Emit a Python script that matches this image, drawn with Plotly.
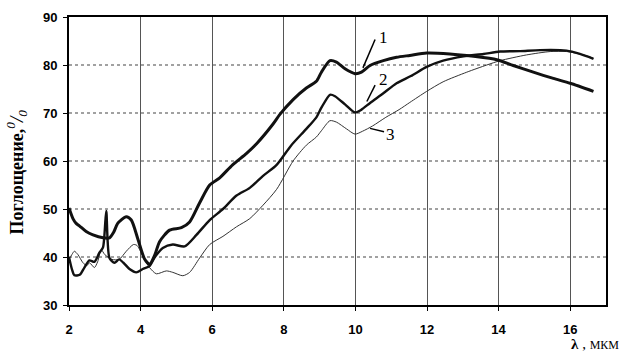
import plotly.graph_objects as go

# Curve 1 (thick)
x1 = [2.0, 2.11, 2.2, 2.29, 2.48, 2.67, 2.95, 3.13, 3.25, 3.36, 3.6, 3.74, 3.93, 4.11, 4.25,
      4.4, 4.53, 4.81, 5.14, 5.37, 5.65, 5.93, 6.21, 6.57, 6.96, 7.24, 7.7, 7.89, 8.26, 8.63,
      8.91, 9.05, 9.29, 9.47, 9.71, 9.99, 10.17, 10.41, 10.78, 11.15, 11.52, 11.99, 12.64,
      13.3, 13.95, 14.41, 14.97, 15.53, 16.0, 16.65]
y1 = [50.2, 48.0, 47.0, 46.5, 45.3, 44.6, 44.0, 44.0, 45.2, 47.0, 48.4, 47.7, 43.6, 39.6, 38.5,
      40.5, 43.2, 45.6, 46.1, 47.3, 51.3, 55.0, 56.5, 59.2, 61.6, 63.6, 67.7, 69.7, 72.8, 75.2,
      76.6, 78.5, 80.9, 80.6, 79.2, 78.2, 78.5, 79.9, 80.9, 81.6, 82.0, 82.5, 82.3,
      81.8, 81.1, 79.9, 78.5, 77.2, 76.2, 74.5]

# Curve 2 (medium)
x2 = [2.0, 2.08, 2.15, 2.3, 2.43, 2.57, 2.71, 2.85, 2.95, 3.04, 3.13, 3.27, 3.4, 3.52, 3.69,
      3.88, 4.06, 4.25, 4.4, 4.62, 4.9, 5.23, 5.56, 5.93, 6.3, 6.68, 7.05, 7.42, 7.8, 8.2,
      8.63, 8.91, 9.05, 9.29, 9.43, 9.71, 9.99, 10.17, 10.41, 10.78, 11.15, 11.55, 11.99,
      12.45, 13.02, 13.58, 14.04, 14.6, 15.16, 15.9, 16.27, 16.65]
y2 = [40.0, 37.5, 36.2, 36.3, 37.8, 39.3, 39.0, 40.9, 42.0, 49.6, 39.8, 38.8, 39.5, 38.8, 37.5,
      36.8, 37.5, 38.1, 40.0, 41.9, 42.6, 42.2, 44.6, 47.7, 50.0, 52.8, 54.4, 56.9, 59.2, 63.2,
      66.7, 69.1, 71.1, 73.8, 73.5, 71.8, 70.1, 70.7, 72.1, 74.1, 76.2, 77.7, 79.6,
      80.9, 81.8, 82.3, 82.8, 82.9, 83.1, 83.0, 82.3, 81.3]

# Curve 3 (thin)
x3 = [2.0, 2.08, 2.15, 2.25, 2.39, 2.5, 2.57, 2.71, 2.8, 2.9, 3.0, 3.2, 3.4, 3.6, 3.8, 3.9,
      4.11, 4.25, 4.44, 4.72, 4.9, 5.18, 5.37, 5.65, 5.93, 6.3, 6.68, 7.05, 7.42, 7.8, 8.26,
      8.63, 8.91, 9.05, 9.29, 9.47, 9.75, 9.99, 10.2, 10.48, 10.85, 11.22, 11.52, 11.99,
      12.45, 13.11, 13.67, 14.04, 14.78, 15.44, 15.9, 16.37, 16.65]
y3 = [39.5, 40.5, 41.2, 40.5, 38.8, 38.2, 38.8, 37.8, 39.0, 41.5, 40.5, 39.5, 39.5, 41.2, 42.6, 42.4,
      39.5, 37.8, 36.5, 37.1, 36.8, 36.1, 36.8, 39.8, 42.6, 44.3, 46.3, 48.0, 50.8, 54.1, 60.0,
      63.3, 65.0, 66.3, 68.4, 68.1, 66.7, 65.6, 66.2, 67.3, 69.1, 70.7, 72.2, 74.5,
      76.5, 78.5, 80.0, 80.9, 82.1, 82.8, 82.8, 82.1, 81.4]

x_ticks = [2, 4, 6, 8, 10, 12, 14, 16]
y_ticks = [30, 40, 50, 60, 70, 80, 90]

curve_labels = ["1", "2", "3"]
label_pos = [(10.78, 85.8), (10.78, 76.9), (10.98, 65.6)]
leader_lines = [((10.55, 85.3), (10.21, 79.4)),
                ((10.55, 75.8), (10.32, 72.4)),
                ((10.41, 66.8), (10.80, 66.1))]

fig = go.Figure()
for xs, ys, w, c in [(x3, y3, 1.0, "#333"), (x2, y2, 2.4, "#111"), (x1, y1, 3.0, "#111")]:
    fig.add_trace(go.Scatter(x=xs, y=ys, mode="lines",
                             line=dict(color=c, width=w, shape="spline", smoothing=0.7),
                             showlegend=False, hoverinfo="skip"))

# horizontal dotted grid lines
for yv in y_ticks[1:-1]:
    fig.add_shape(type="line", xref="paper", x0=0, x1=1, yref="y", y0=yv, y1=yv,
                  line=dict(color="#444", width=1.2, dash="dot"), layer="below")

for (a, b) in leader_lines:
    fig.add_shape(type="line", x0=a[0], y0=a[1], x1=b[0], y1=b[1],
                  line=dict(color="black", width=1.5))

for t, (lx, ly) in zip(curve_labels, label_pos):
    fig.add_annotation(x=lx, y=ly, text=t, showarrow=False,
                       font=dict(family="Liberation Serif", size=17, color="black"))

fig.add_annotation(xref="paper", yref="paper", x=1.0 + 15/537, y=-0.137,
                   xanchor="right", yanchor="middle", showarrow=False,
                   text="<b>λ</b> , <span style='font-size:12px'>МКМ</span>",
                   font=dict(family="Liberation Serif", size=15, color="black"))

# y-axis title
fig.add_annotation(xref="paper", yref="paper", x=-52/537, y=0.46,
                   xanchor="center", yanchor="middle", showarrow=False, textangle=-90,
                   text="<b>Поглощение,</b><span style='font-size:19px'><i><sup>0</sup>/<sub>0</sub></i></span>",
                   font=dict(family="Liberation Serif", size=18, color="black"))

fig.update_layout(
    width=621, height=358,
    margin=dict(l=69, r=15, t=10, b=53),
    plot_bgcolor="white", paper_bgcolor="white",
    xaxis=dict(range=[2, 17], tickvals=x_ticks, showgrid=True, gridcolor="#555",
               gridwidth=1, zeroline=False, showline=True, linecolor="black",
               linewidth=2, mirror=True, ticks="outside", ticklen=4,
               tickcolor="black", ticklabelstandoff=7,
               tickfont=dict(family="Liberation Sans", size=13,
                             color="black", weight="bold")),
    yaxis=dict(range=[30, 90], tickvals=y_ticks, showgrid=False, zeroline=False,
               showline=True, linecolor="black", linewidth=2, mirror=True,
               ticks="outside", ticklen=4, tickcolor="black", ticklabelstandoff=3,
               tickfont=dict(family="Liberation Sans", size=13, color="black",
                             weight="bold")),
)

fig.write_html("out.html")
